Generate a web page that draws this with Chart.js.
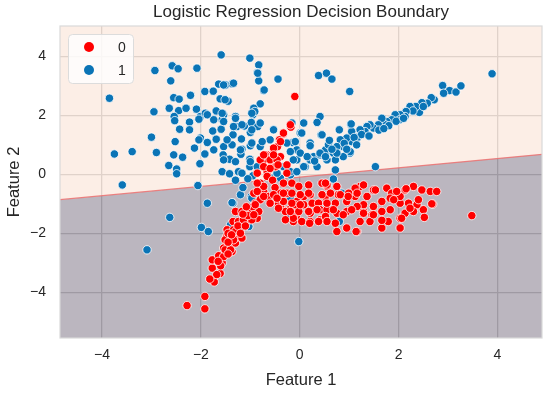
<!DOCTYPE html>
<html>
<head>
<meta charset="utf-8">
<script src="https://cdn.jsdelivr.net/npm/chart.js@4.4.1/dist/chart.umd.min.js"></script>
<style>
  html, body { margin: 0; padding: 0; background: #fff; }
  #wrap { width: 550px; height: 394px; }
</style>
</head>
<body>
<div id="wrap"><canvas id="c" width="550" height="394"></canvas></div>
<script>
// class labels (legend) and points, [feature1, feature2]
const classLabels = ['0', '1'];

const classZero = [
  // lower arm
  [-2.28,-4.45], [-1.92,-4.14], [-1.92,-4.56], [-1.73,-3.65], [-1.61,-3.36], [-1.77,-3.18],
  [-1.77,-2.90], [-1.64,-2.76], [-1.54,-2.50], [-1.57,-3.00], [-1.60,-3.10], [-1.48,-2.11],
  [-1.47,-1.88], [-1.54,-2.79], [-1.47,-2.56], [-1.37,-2.62], [-1.40,-2.39], [-1.30,-2.33],
  [-1.27,-2.13], [-1.17,-2.16], [-1.34,-1.88], [-1.20,-1.88], [-1.35,-1.60], [-1.24,-1.60],
  [-1.10,-1.54], [-1.30,-1.26], [-1.17,-1.26], [-1.01,-1.26], [-0.86,-1.26], [-1.00,-1.54],
  [-0.86,-1.49], [-0.90,-0.98], [-0.80,-0.86], [-0.93,-0.64], [-0.73,-0.58], [-0.63,-0.75],
  [-0.80,-0.30], [-0.66,0.09], [-0.33,-0.30], [-0.39,-0.64], [-0.39,-1.09], [-0.21,-1.20],
  [-0.07,-1.43], [-0.06,-0.92], [-0.83,-1.26], [-0.73,-0.75], [-0.73,-0.41], [-0.86,-0.30],
  [-1.14,-1.54], [-0.97,-1.54], [-1.30,-1.94], [-1.51,-2.22], [-1.34,-2.22], [-1.51,-2.56],
  [-1.40,-2.56], [-1.45,-2.30], [-1.25,-1.75], [-1.05,-1.40], [-1.15,-1.35], [-1.45,-2.00],
  [-1.20,-2.00], [-1.10,-1.75], [-1.45,-2.70], [-1.65,-2.95], [-1.38,-2.05], [-0.95,-1.10],
  [-1.08,-1.10], [-1.68,-3.40], [-1.82,-3.55],
  // upper arm through the crossing
  [-0.18,1.60], [-0.33,1.37], [-0.41,1.17], [-0.53,0.85], [-0.45,0.94], [-0.39,0.60],
  [-0.49,0.51], [-0.51,0.26], [-0.66,0.66], [-0.73,0.49], [-0.26,0.32], [-0.33,1.40],
  [-0.39,1.11], [-0.53,0.89], [-0.70,0.66], [-0.60,0.49], [-0.80,0.49], [-0.46,0.49],
  [-0.49,0.26], [-0.73,0.26], [-0.86,0.04], [-0.66,-0.07], [-0.19,1.68], [-0.26,0.04],
  [-0.16,-0.30], [-0.73,0.66], [-0.53,0.66], [-0.44,0.32], [-0.60,0.20], [-0.55,-0.20],
  [-0.50,-0.45], [-0.10,2.64],
  // horizontal band
  [-0.53,-0.69], [-0.43,-0.98], [-0.33,-0.92], [-0.29,-1.26], [-0.09,-1.32], [-0.09,-1.03],
  [0.08,-1.03], [0.08,-0.75], [0.21,-0.69], [0.25,-0.98], [0.38,-0.98], [0.41,-1.20],
  [0.21,-1.32], [0.21,-1.60], [0.04,-1.60], [-0.13,-1.60], [0.41,-1.54], [0.52,-1.54],
  [0.55,-1.20], [0.52,-0.75], [-0.26,-0.64], [0.55,-0.41], [0.45,-0.30], [0.18,-0.36],
  [-0.02,-0.41], [1.22,-0.41], [1.49,-0.53], [1.76,-0.47], [2.13,-0.53], [2.30,-0.41],
  [2.47,-0.53], [2.64,-0.58], [2.77,-0.58], [3.48,-1.40], [2.15,-0.49], [2.69,-1.01],
  [2.50,-1.20], [2.52,-1.46], [2.37,-1.03], [2.30,-1.26], [2.40,-0.86], [2.20,-0.98],
  [2.03,-0.98], [2.03,-0.75], [1.86,-0.64], [1.83,-0.81], [1.83,-1.20], [2.03,-1.49],
  [2.03,-1.82], [1.79,-1.60], [1.66,-1.82], [1.66,-0.92], [1.66,-1.26], [1.49,-1.09],
  [1.53,-0.53], [1.46,-1.37], [1.29,-1.26], [1.29,-1.03], [1.36,-0.75], [1.29,-0.36],
  [1.12,-0.47], [1.12,-0.75], [1.16,-1.09], [1.22,-1.60], [1.16,-1.94], [0.95,-1.82],
  [0.95,-1.26], [0.95,-0.92], [0.99,-0.64], [0.78,-0.69], [0.72,-0.98], [0.75,-1.32],
  [0.72,-1.66], [0.75,-1.94], [0.55,-0.36], [0.55,-0.98], [0.52,-1.43], [1.42,-1.60],
  [1.66,-1.56], [2.13,-1.32], [2.23,-1.15], [2.67,-1.00], [1.96,-0.58], [1.90,-0.86],
  [2.06,-1.49], [1.14,-1.94], [0.55,-1.60], [0.38,-1.60], [0.20,-1.66], [-0.13,-1.49],
  [-0.29,-1.54], [-0.43,-1.15], [-0.19,-1.26], [-0.02,-1.26], [0.18,-1.26], [0.35,-1.20],
  [0.68,-1.20], [0.88,-1.37], [1.05,-1.20], [1.29,-1.32], [1.49,-1.37], [-0.86,-0.58],
  [-0.90,-1.03], [-0.93,-1.37], [-0.60,-0.98], [-0.46,-0.81], [-0.16,-0.98], [0.01,-1.03],
  [0.45,-0.69], [0.62,-0.64], [0.82,-0.69], [0.98,-0.75], [1.16,-0.64], [0.52,-0.30],
  [0.75,-0.41], [0.18,-0.64], [0.01,-0.69], [-0.16,-0.64], [-0.33,-0.64]
];

const classOne = [
  // scattered cloud, upper left
  [-3.85,2.58], [-2.93,3.52], [-2.58,3.68], [-2.46,3.58], [-2.08,3.60], [-1.59,4.05],
  [-2.61,3.17], [-2.55,2.60], [-2.44,2.55], [-2.21,2.68], [-1.92,2.81], [-1.75,2.82],
  [-1.64,3.06], [-1.50,3.03], [-1.61,2.56], [-1.47,2.49], [-2.95,2.12], [-2.64,2.24],
  [-2.45,2.16], [-2.30,2.24], [-2.09,2.21], [-2.54,1.93], [-2.23,1.77], [-2.01,1.96],
  [-1.91,2.07], [-1.69,2.15], [-1.57,1.85], [-2.43,1.53], [-2.23,1.51], [-1.76,1.47],
  [-1.59,1.53], [-3.00,1.26], [-2.01,1.23], [-1.01,3.94], [-0.83,3.71], [-0.86,3.45],
  [-0.83,3.17], [-0.44,3.23], [-0.73,2.84], [-1.37,3.07], [-1.45,2.48], [-1.54,2.02],
  [-1.30,1.96], [-0.93,2.21], [-0.95,2.02], [-1.27,1.62], [-1.12,1.64], [-0.98,1.76],
  [-0.85,1.62], [-1.00,1.42], [-2.54,1.96], [-2.53,1.82], [-2.04,1.87], [-1.87,2.02],
  [-1.74,1.85], [-1.54,1.79], [-1.35,1.34], [-1.18,1.20], [-2.52,1.11], [-2.04,1.17],
  [-1.87,1.08], [-1.69,1.19], [-1.54,0.94], [-1.37,1.00], [-1.17,0.85], [-1.00,0.97],
  [-3.75,0.69], [-3.39,0.77], [-2.90,0.74], [-2.55,0.66], [-2.37,0.58], [-2.13,0.89],
  [-1.92,0.69], [-1.74,0.83], [-1.55,0.66], [-1.42,0.51], [-1.19,0.68], [-1.01,0.51],
  [-2.65,0.30], [-2.49,0.18], [-2.49,0.02], [-2.02,0.36], [-1.57,0.09], [-1.42,0.02],
  [-1.24,0.09], [-1.01,0.26], [-0.95,-0.05], [-3.59,-0.36], [-2.06,-0.38],
  // below the boundary
  [-1.87,-0.98], [-2.63,-1.46], [-1.99,-1.80], [-1.85,-1.94], [-3.09,-2.56], [-1.20,-0.69],
  [-1.35,-0.98], [-0.98,-0.75], [-0.56,-0.13], [-0.39,-0.13], [-0.19,-0.02], [-0.21,-1.43],
  [-0.02,-2.28], [-1.03,-1.77], [-1.30,-0.20], [-1.15,-0.45], [-1.05,-0.15], [-0.23,-1.37],
  [-0.19,-0.81], [0.68,-0.16], [0.85,-0.64], [0.80,-1.60], [1.53,0.26], [-1.37,-0.96],
  [-0.97,-0.81], [-1.40,-1.71],
  // centre, upper part
  [-0.85,3.43], [-0.72,2.86], [-0.80,2.39], [-0.93,2.24], [-0.91,2.13], [0.38,3.35],
  [0.54,3.43], [0.65,3.23], [1.01,2.81], [0.41,1.96], [0.35,1.76], [0.08,1.74],
  [-0.16,1.74], [-0.19,1.62], [-1.34,1.62], [-1.17,1.68], [-0.97,1.51], [-0.80,1.74],
  [-0.53,1.51], [0.01,1.40], [-0.14,1.08], [0.21,1.06], [-0.06,0.83], [-0.80,0.94],
  [-0.97,1.06], [-1.47,1.17], [-1.20,0.83], [-1.54,0.49], [-1.30,0.43], [-1.00,0.43],
  [-0.86,0.26], [-1.17,0.04], [-0.06,0.49], [0.11,0.26], [0.28,0.60], [0.41,0.66],
  [0.55,0.77], [-0.19,0.09], [-0.97,2.07], [-1.57,2.07], [-1.30,1.90], [-1.51,2.53],
  [-1.54,3.03], [-1.34,3.09], [0.80,1.51], [1.03,1.70], [0.43,1.34], [0.21,0.97],
  [0.04,1.40], [-0.09,1.11], [-0.26,1.06], [-0.60,1.17], [-0.76,1.11],
  // diagonal arm
  [3.89,3.41], [2.89,3.01], [3.03,2.84], [3.16,2.79], [3.26,3.00], [2.91,2.75],
  [2.72,2.53], [2.66,2.60], [2.58,2.41], [2.47,2.43], [2.42,2.10], [2.35,2.30],
  [2.23,2.30], [2.29,2.15], [2.15,2.13], [2.13,1.96], [2.03,2.02], [1.93,2.02],
  [2.02,1.85], [1.86,1.85], [1.76,1.79], [1.73,1.68], [1.66,1.90], [1.59,1.68],
  [1.49,1.57], [1.42,1.68], [1.36,1.62], [1.32,1.45], [1.22,1.51], [1.17,1.26],
  [1.05,1.45], [1.05,1.11], [0.95,1.23], [0.88,0.94], [0.82,1.17], [0.75,0.94],
  [1.04,1.71], [1.02,0.72], [0.88,0.60], [0.68,0.72], [0.52,0.83], [0.58,1.00],
  [0.72,0.49], [0.55,0.49], [0.45,1.34], [0.72,0.15], [0.41,0.72], [0.21,0.49],
  [0.08,0.26], [-0.06,0.09], [-0.13,0.49], [-0.33,0.26], [-0.46,0.04], [0.75,0.72],
  [1.02,0.77], [0.52,0.60], [0.35,0.26], [-0.19,0.77], [0.01,0.72], [1.60,1.50],
  [1.80,1.65], [1.95,1.80], [2.10,1.90], [1.25,1.35], [1.10,1.25], [0.90,1.05],
  [0.65,0.85], [0.60,1.15], [0.30,0.45], [0.15,0.60], [0.95,0.85], [1.15,1.00],
  [1.40,1.30], [1.70,1.55], [2.50,2.30]
];

// decision boundary (end points at the axis limits)
const boundaryX = [-4.85, 4.9];
const boundaryY = [-0.86, 0.68];

// axis limits and ticks
const xRange = [-4.85, 4.9];
const yRange = [-5.55, 5.03];
const xTicks = [-4, -2, 0, 2, 4];
const yTicks = [-4, -2, 0, 2, 4];

const FONT = '"Liberation Sans", Arial, Helvetica, sans-serif';
const INK = '#262626';
const minus = v => (v < 0 ? '\u2212' + Math.abs(v) : String(v));
const toPts = arr => arr.map(p => ({ x: p[0], y: p[1] }));
const boundary = boundaryX.map((x, i) => ({ x, y: boundaryY[i] }));

// frame on top of the fills + legend inside the axes
const frameAndLegend = {
  id: 'frameAndLegend',
  afterDatasetsDraw(chart) {
    const { ctx, chartArea: a } = chart;
    ctx.save();
    ctx.strokeStyle = '#d9d9d9';
    ctx.lineWidth = 1.2;
    ctx.strokeRect(a.left, a.top, a.right - a.left, a.bottom - a.top);

    const bx = a.left + 8, by = a.top + 8, bw = 65, bh = 49;
    ctx.fillStyle = 'rgba(255,255,255,0.8)';
    ctx.strokeStyle = '#dcdcdc';
    ctx.lineWidth = 1;
    ctx.beginPath();
    ctx.roundRect(bx + 0.5, by + 0.5, bw, bh, 4);
    ctx.fill();
    ctx.stroke();

    const items = chart.data.datasets.filter(d => d.inLegend);
    items.forEach((d, i) => {
      const y = by + 13 + i * 23;
      ctx.beginPath();
      ctx.arc(bx + 21, y, 5, 0, Math.PI * 2);
      ctx.fillStyle = d.backgroundColor;
      ctx.fill();
      ctx.fillStyle = INK;
      ctx.font = '14px ' + FONT;
      ctx.textAlign = 'center';
      ctx.textBaseline = 'middle';
      ctx.fillText(d.label, bx + 54, y + 1);
    });
    ctx.restore();
  }
};

const tickFont = { family: FONT, size: 14 };
const labelFont = { family: FONT, size: 16.5 };

new Chart(document.getElementById('c'), {
  type: 'scatter',
  data: {
    datasets: [
      {
        label: classLabels[0], inLegend: true, data: toPts(classZero), order: 0,
        backgroundColor: '#ff0000', borderColor: '#ffffff', borderWidth: 0.8,
        pointRadius: 4.2
      },
      {
        label: classLabels[1], inLegend: true, data: toPts(classOne), order: 1,
        backgroundColor: '#0a74b6', borderColor: '#ffffff', borderWidth: 0.8,
        pointRadius: 4.2
      },
      {
        label: 'above', type: 'line', data: boundary, order: 3,
        fill: 'end', backgroundColor: 'rgba(249,218,200,0.45)',
        borderColor: 'rgba(235,110,110,0.85)', borderWidth: 1.2, pointRadius: 0
      },
      {
        label: 'below', type: 'line', data: boundary, order: 4,
        fill: 'start', backgroundColor: 'rgba(104,93,113,0.45)',
        borderWidth: 0, pointRadius: 0
      }
    ]
  },
  options: {
    responsive: false,
    animation: false,
    events: [],
    layout: { padding: { left: 0, right: 8, top: 0, bottom: 0 } },
    plugins: {
      legend: { display: false },
      tooltip: { enabled: false },
      title: {
        display: true, fullSize: false,
        text: 'Logistic Regression Decision Boundary',
        color: INK, font: { family: FONT, size: 17, weight: 'normal' },
        padding: { top: 2.5, bottom: 3.1 }
      }
    },
    scales: {
      x: {
        type: 'linear', min: xRange[0], max: xRange[1],
        afterBuildTicks: s => { s.ticks = xTicks.map(v => ({ value: v })); },
        afterFit: s => { s.height = 56; },
        grid: { color: '#cccccc', lineWidth: 1.3, drawTicks: false },
        border: { display: false },
        ticks: { padding: 9, color: INK, font: tickFont, callback: v => minus(v) },
        title: { display: true, text: 'Feature 1', color: INK, font: labelFont, padding: { top: 4, bottom: 4 } }
      },
      y: {
        type: 'linear', min: yRange[0], max: yRange[1],
        afterBuildTicks: s => { s.ticks = yTicks.map(v => ({ value: v })); },
        afterFit: s => { s.width = 60; },
        grid: { color: '#cccccc', lineWidth: 1.3, drawTicks: false },
        border: { display: false },
        ticks: { padding: 14, color: INK, font: tickFont, callback: v => minus(v) },
        title: { display: true, text: 'Feature 2', color: INK, font: labelFont, padding: { top: 5, bottom: 4 } }
      }
    }
  },
  plugins: [frameAndLegend]
});
</script>
</body>
</html>
